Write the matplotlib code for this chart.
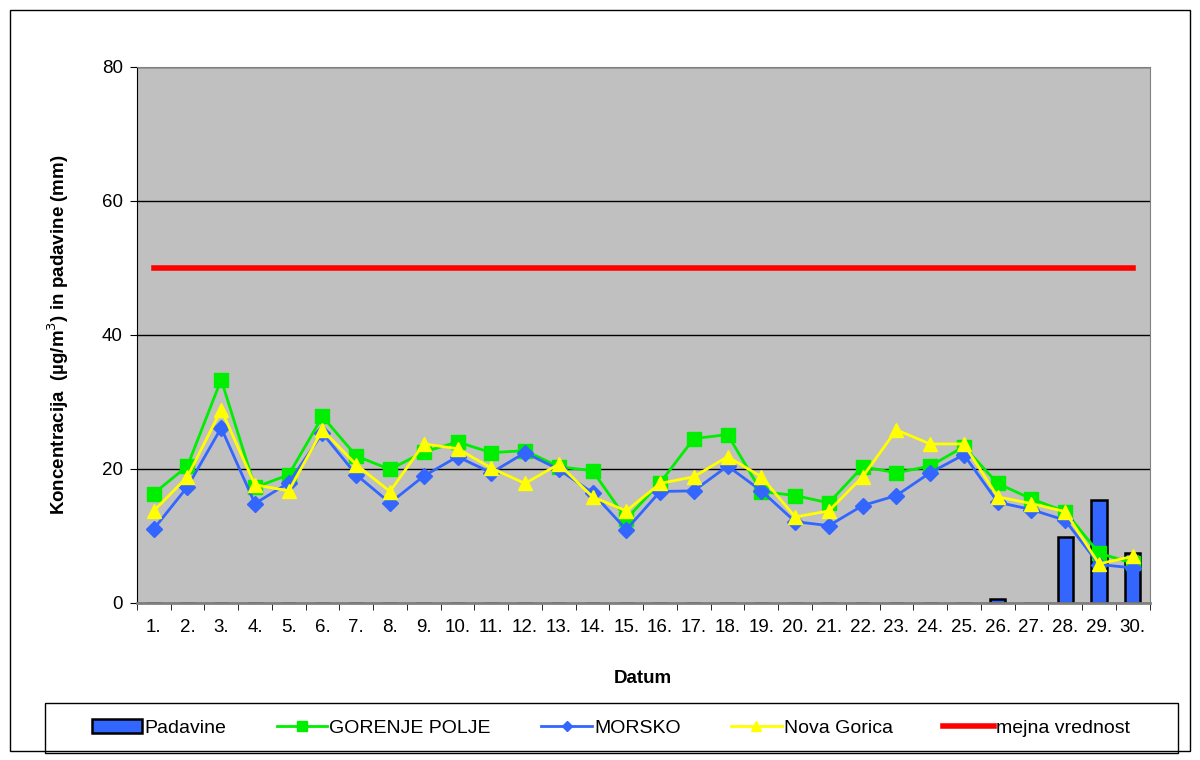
import matplotlib.pyplot as plt
from matplotlib.patches import Rectangle

plt.rcParams['font.family'] = ['Liberation Sans', 'DejaVu Sans']

# days 1..30
dni = list(range(1, 31))
oznake = [f'{d}.' for d in dni]

# padavine (mm), only last days have rain
padavine = [0, 0, 0, 0, 0, 0, 0, 0, 0, 0, 0, 0, 0, 0, 0,
            0, 0, 0, 0, 0, 0, 0, 0, 0, 0, 0.6, 0, 9.8, 15.4, 7.4]

gorenje_polje = [16.3, 20.4, 33.3, 17.2, 19.1, 27.8, 21.9, 19.9, 22.5, 24.0,
                 22.4, 22.7, 20.3, 19.7, 12.5, 17.9, 24.5, 25.1, 16.6, 16.0,
                 14.9, 20.3, 19.4, 20.4, 23.3, 17.8, 15.5, 13.6, 7.4, 5.9]

morsko = [11.0, 17.3, 26.1, 14.8, 17.9, 25.3, 19.1, 14.9, 18.9, 21.8,
          19.4, 22.4, 19.9, 16.4, 10.9, 16.6, 16.7, 20.4, 16.7, 12.1,
          11.5, 14.5, 16.0, 19.4, 22.1, 15.0, 13.9, 12.3, 5.7, 5.2]

nova_gorica = [13.7, 18.8, 28.8, 17.6, 16.7, 25.8, 20.6, 16.6, 23.7, 23.0,
               20.1, 17.8, 20.7, 15.8, 13.7, 17.8, 18.8, 21.8, 18.8, 12.8,
               13.7, 18.8, 25.8, 23.7, 23.7, 15.8, 14.8, 13.6, 5.8, 6.9]

mejna = [50] * 30

fig = plt.figure(figsize=(12, 7.6), dpi=100)
ax = fig.add_axes([0.114, 0.207, 0.844, 0.705])
ax.set_facecolor('#c0c0c0')

# outer frame of the chart
fig.patches.append(Rectangle((0.008, 0.012), 0.984, 0.975, transform=fig.transFigure,
                             fill=False, edgecolor='black', linewidth=1))
# legend frame
fig.patches.append(Rectangle((0.0375, 0.009), 0.944, 0.066, transform=fig.transFigure,
                             fill=False, edgecolor='black', linewidth=1))

ax.bar(dni, padavine, width=0.45, color='#3366ff', edgecolor='black', linewidth=1.8,
       label='Padavine', zorder=2)
ax.plot(dni, gorenje_polje, color='#00ee00', marker='s', markersize=10, linewidth=2,
        label='GORENJE POLJE', zorder=3)
ax.plot(dni, morsko, color='#3366ff', marker='D', markersize=8, linewidth=2,
        label='MORSKO', zorder=4)
ax.plot(dni, nova_gorica, color='#ffff00', marker='^', markersize=10, linewidth=2,
        label='Nova Gorica', zorder=5)
ax.plot(dni, mejna, color='#ff0000', linewidth=4, label='mejna vrednost', zorder=3)

ax.set_xlim(0.5, 30.5)
ax.set_ylim(0, 80)
ax.set_yticks([0, 20, 40, 60, 80])
ax.yaxis.grid(True, color='black', linewidth=1)
ax.set_axisbelow(True)
ax.set_xticks(dni)
ax.set_xticklabels(oznake)
ax.set_xticks([d + 0.5 for d in range(0, 31)], minor=True)
ax.tick_params(axis='x', which='major', length=0, pad=12, labelsize=13.5)
ax.tick_params(axis='x', which='minor', length=5, color='black')
ax.tick_params(axis='y', length=5, labelsize=13.5, pad=5)

for s in ['top', 'right']:
    ax.spines[s].set_color('#808080')
ax.spines['left'].set_color('black')
ax.spines['bottom'].set_color('#808080')
ax.spines['bottom'].set_linewidth(2)

ax.set_ylabel('Koncentracija  (µg/m$^3$) in padavine (mm)', fontsize=13.5,
              fontweight='bold', labelpad=22)
ax.set_xlabel('Datum', fontsize=13.5, fontweight='bold', labelpad=24)

h, l = ax.get_legend_handles_labels()
order = [4, 0, 1, 2, 3]
leg = fig.legend([h[i] for i in order], [l[i] for i in order],
                 loc='center', bbox_to_anchor=(0.509, 0.042), ncol=5, fontsize=14,
                 frameon=False, columnspacing=2.6, handlelength=2.6, handletextpad=0.1,
                 markerscale=0.7)

fig.savefig('out.png', dpi=100)
